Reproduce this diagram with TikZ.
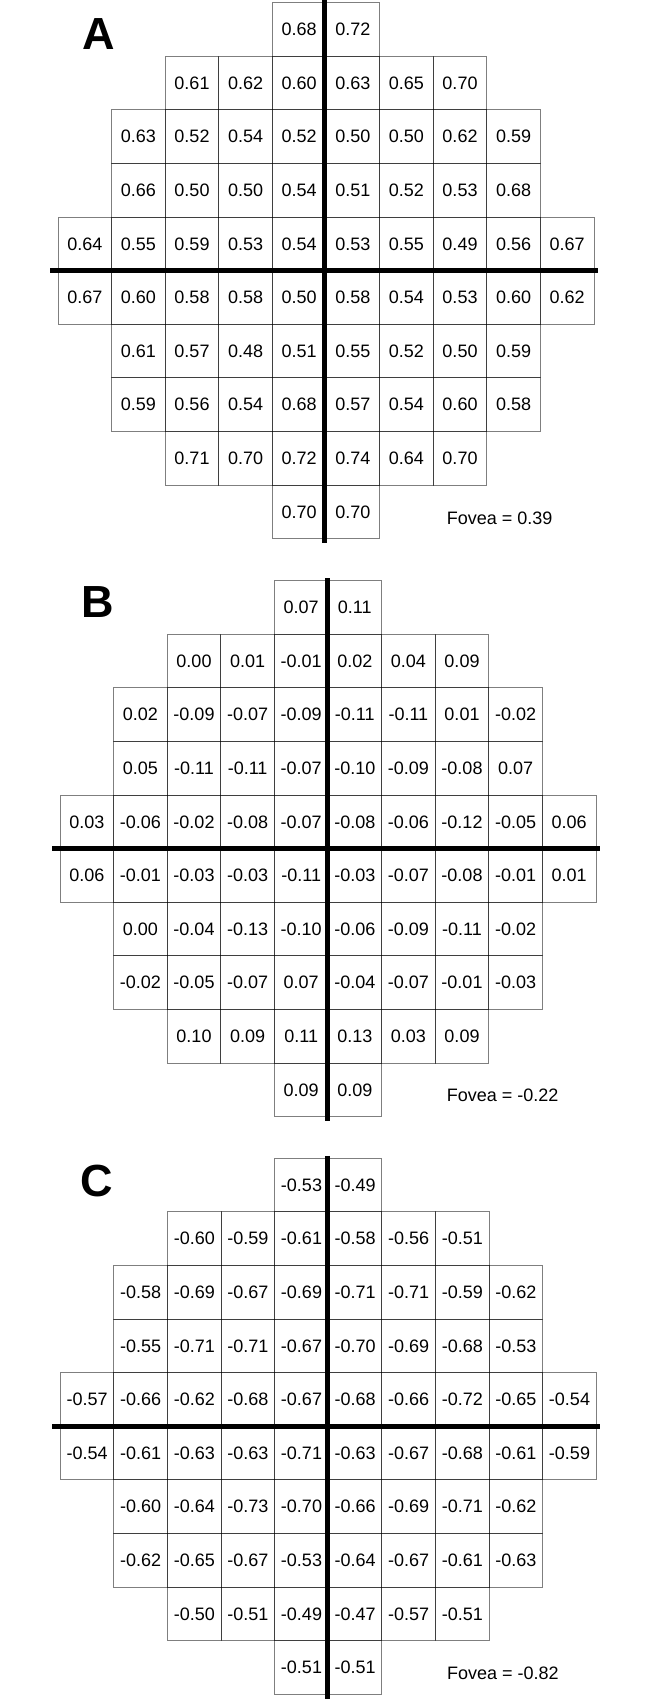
\documentclass[tikz,border=0pt]{standalone}
\usepackage{fontspec}
\setmainfont{Liberation Sans}
\newcommand\prow[6]{\foreach \v [count=\k from #5] in {#6}{\node[cellbox] (#1-#4-\k) at ({#2+(\k+0.5)*53.6},{#3+(#4+0.5)*53.6}) {\v};}}
\newcommand\paxes[4]{%
  \coordinate (#1-top) at (#4,{#3-2.5});
  \coordinate (#1-bot) at (#4,{#3+540.5});
  \coordinate (#1-left) at ({#2-8},{#3+268});
  \coordinate (#1-right) at ({#2+540},{#3+268});
  \draw[axis] (#1-top) -- (#1-bot);
  \draw[axis] (#1-left) -- (#1-right);}
\begin{document}
\begin{tikzpicture}[x=1pt,y=-1pt,
  cellbox/.style={draw=black, draw opacity=0.5, line width=0.9pt, minimum width=53.6pt, minimum height=53.6pt, inner sep=0pt, font=\fontsize{18}{18}\selectfont},
  axis/.style={line width=5pt, black},
  plabel/.style={font=\fontsize{45}{45}\selectfont\bfseries, inner sep=0pt},
  fovea/.style={anchor=west, inner sep=0pt, font=\fontsize{18}{18}\selectfont}]
\useasboundingbox (0,0) rectangle (653,1699);
% ---------- Panel A ----------
\prow{A}{58}{2.7}{0}{4}{0.68,0.72}
\prow{A}{58}{2.7}{1}{2}{0.61,0.62,0.60,0.63,0.65,0.70}
\prow{A}{58}{2.7}{2}{1}{0.63,0.52,0.54,0.52,0.50,0.50,0.62,0.59}
\prow{A}{58}{2.7}{3}{1}{0.66,0.50,0.50,0.54,0.51,0.52,0.53,0.68}
\prow{A}{58}{2.7}{4}{0}{0.64,0.55,0.59,0.53,0.54,0.53,0.55,0.49,0.56,0.67}
\prow{A}{58}{2.7}{5}{0}{0.67,0.60,0.58,0.58,0.50,0.58,0.54,0.53,0.60,0.62}
\prow{A}{58}{2.7}{6}{1}{0.61,0.57,0.48,0.51,0.55,0.52,0.50,0.59}
\prow{A}{58}{2.7}{7}{1}{0.59,0.56,0.54,0.68,0.57,0.54,0.60,0.58}
\prow{A}{58}{2.7}{8}{2}{0.71,0.70,0.72,0.74,0.64,0.70}
\prow{A}{58}{2.7}{9}{4}{0.70,0.70}
\paxes{A}{58}{2.7}{324}
\node[plabel] (labA) at (98.5,34.2) {A};
\node[fovea] (fovA) at (446.7,518) {Fovea = 0.39};
% ---------- Panel B ----------
\prow{B}{60}{580.7}{0}{4}{0.07,0.11}
\prow{B}{60}{580.7}{1}{2}{0.00,0.01,-0.01,0.02,0.04,0.09}
\prow{B}{60}{580.7}{2}{1}{0.02,-0.09,-0.07,-0.09,-0.11,-0.11,0.01,-0.02}
\prow{B}{60}{580.7}{3}{1}{0.05,-0.11,-0.11,-0.07,-0.10,-0.09,-0.08,0.07}
\prow{B}{60}{580.7}{4}{0}{0.03,-0.06,-0.02,-0.08,-0.07,-0.08,-0.06,-0.12,-0.05,0.06}
\prow{B}{60}{580.7}{5}{0}{0.06,-0.01,-0.03,-0.03,-0.11,-0.03,-0.07,-0.08,-0.01,0.01}
\prow{B}{60}{580.7}{6}{1}{0.00,-0.04,-0.13,-0.10,-0.06,-0.09,-0.11,-0.02}
\prow{B}{60}{580.7}{7}{1}{-0.02,-0.05,-0.07,0.07,-0.04,-0.07,-0.01,-0.03}
\prow{B}{60}{580.7}{8}{2}{0.10,0.09,0.11,0.13,0.03,0.09}
\prow{B}{60}{580.7}{9}{4}{0.09,0.09}
\paxes{B}{60}{580.7}{327}
\node[plabel] (labB) at (98,602.5) {B};
\node[fovea] (fovB) at (446.7,1095) {Fovea = -0.22};
% ---------- Panel C ----------
\prow{C}{60.3}{1158.3}{0}{4}{-0.53,-0.49}
\prow{C}{60.3}{1158.3}{1}{2}{-0.60,-0.59,-0.61,-0.58,-0.56,-0.51}
\prow{C}{60.3}{1158.3}{2}{1}{-0.58,-0.69,-0.67,-0.69,-0.71,-0.71,-0.59,-0.62}
\prow{C}{60.3}{1158.3}{3}{1}{-0.55,-0.71,-0.71,-0.67,-0.70,-0.69,-0.68,-0.53}
\prow{C}{60.3}{1158.3}{4}{0}{-0.57,-0.66,-0.62,-0.68,-0.67,-0.68,-0.66,-0.72,-0.65,-0.54}
\prow{C}{60.3}{1158.3}{5}{0}{-0.54,-0.61,-0.63,-0.63,-0.71,-0.63,-0.67,-0.68,-0.61,-0.59}
\prow{C}{60.3}{1158.3}{6}{1}{-0.60,-0.64,-0.73,-0.70,-0.66,-0.69,-0.71,-0.62}
\prow{C}{60.3}{1158.3}{7}{1}{-0.62,-0.65,-0.67,-0.53,-0.64,-0.67,-0.61,-0.63}
\prow{C}{60.3}{1158.3}{8}{2}{-0.50,-0.51,-0.49,-0.47,-0.57,-0.51}
\prow{C}{60.3}{1158.3}{9}{4}{-0.51,-0.51}
\paxes{C}{60.3}{1158.3}{327.3}
\node[plabel] (labC) at (97,1181) {C};
\node[fovea] (fovC) at (447,1673) {Fovea = -0.82};
\end{tikzpicture}
\end{document}
